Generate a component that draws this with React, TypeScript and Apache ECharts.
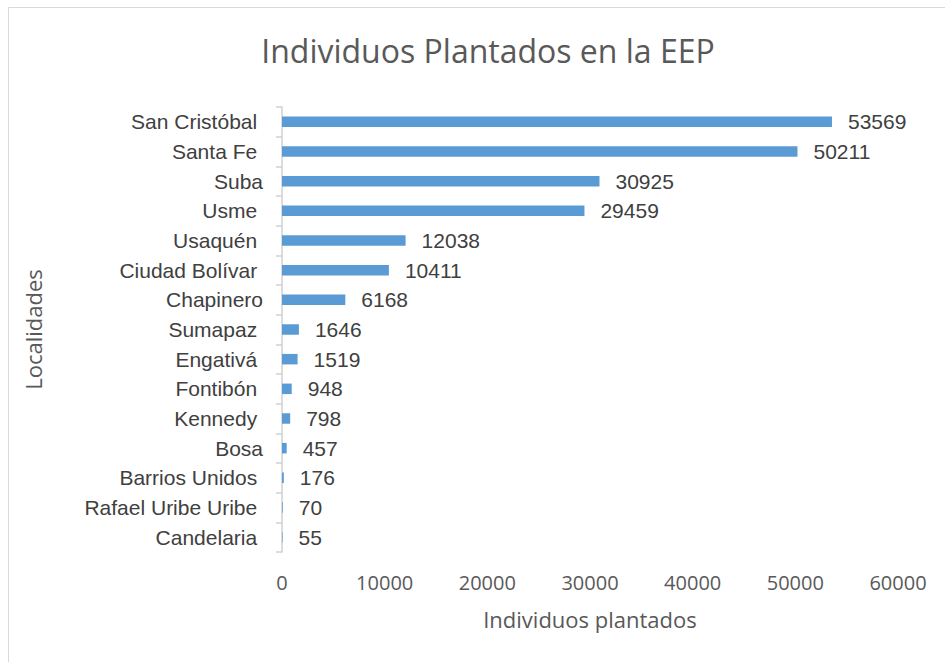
import React, { useEffect, useRef } from "react";
import * as echarts from "echarts";

const categories = [
  "San Cristóbal ",
  "Santa Fe ",
  "Suba",
  "Usme ",
  "Usaquén ",
  "Ciudad Bolívar ",
  "Chapinero",
  "Sumapaz ",
  "Engativá ",
  "Fontibón ",
  "Kennedy ",
  "Bosa",
  "Barrios Unidos ",
  "Rafael Uribe Uribe ",
  "Candelaria ",
];
const values = [53569, 50211, 30925, 29459, 12038, 10411, 6168, 1646, 1519, 948, 798, 457, 176, 70, 55];
const xTicks = [0, 10000, 20000, 30000, 40000, 50000, 60000];

const titleText = "Individuos Plantados en la EEP";
const xName = "Individuos plantados";
const yName = "Localidades";

export default function App() {
  const ref = useRef<HTMLDivElement>(null);
  useEffect(() => {
    document.body.style.margin = "0";
    const chart = echarts.init(ref.current!, null, { renderer: "svg" });
    chart.setOption({
      animation: false,
      backgroundColor: "#ffffff",
      title: {
        text: titleText,
        left: 483,
        top: 29,
        textAlign: "center",
        textStyle: {
          fontFamily: "Open Sans",
          fontSize: 32,
          fontWeight: "normal",
          color: "#595959",
        },
      },
      graphic: [
        {
          type: "rect",
          shape: { x: 8.5, y: 7.5, width: 980, height: 700 },
          style: { fill: "none", stroke: "#d9d9d9", lineWidth: 1 },
          silent: true,
          z: -1,
        },
      ],
      grid: { left: 282, right: 47, top: 107, bottom: 110, containLabel: false },
      xAxis: {
        type: "value",
        min: xTicks[0],
        max: xTicks[xTicks.length - 1],
        interval: xTicks[1] - xTicks[0],
        name: xName,
        nameLocation: "middle",
        nameGap: 56,
        nameTextStyle: { fontFamily: "Open Sans", fontSize: 22, color: "#595959" },
        axisLine: { show: false },
        axisTick: { show: false },
        splitLine: { show: false },
        axisLabel: {
          margin: 20,
          fontFamily: "Open Sans",
          fontSize: 20,
          color: "#595959",
          formatter: (v: number) => String(v),
        },
      },
      yAxis: {
        type: "category",
        data: categories,
        inverse: true,
        name: yName,
        nameLocation: "middle",
        nameGap: 238,
        nameRotate: 90,
        nameTextStyle: { fontFamily: "Open Sans", fontSize: 22, color: "#595959" },
        axisLine: { show: true, lineStyle: { color: "#d0d0d0", width: 1.5 } },
        axisTick: { show: true, length: 6, lineStyle: { color: "#d0d0d0", width: 1.5 } },
        axisLabel: {
          margin: 19,
          fontFamily: "Liberation Sans",
          fontSize: 21,
          color: "#404040",
        },
      },
      series: [
        {
          type: "bar",
          data: values,
          barWidth: 10.5,
          itemStyle: { color: "#5B9BD5" },
          label: {
            show: true,
            position: "right",
            distance: 16,
            fontFamily: "Liberation Sans",
            fontSize: 21,
            color: "#404040",
          },
        },
      ],
    });
    return () => chart.dispose();
  }, []);
  return <div ref={ref} style={{ width: 945, height: 662 }} />;
}
